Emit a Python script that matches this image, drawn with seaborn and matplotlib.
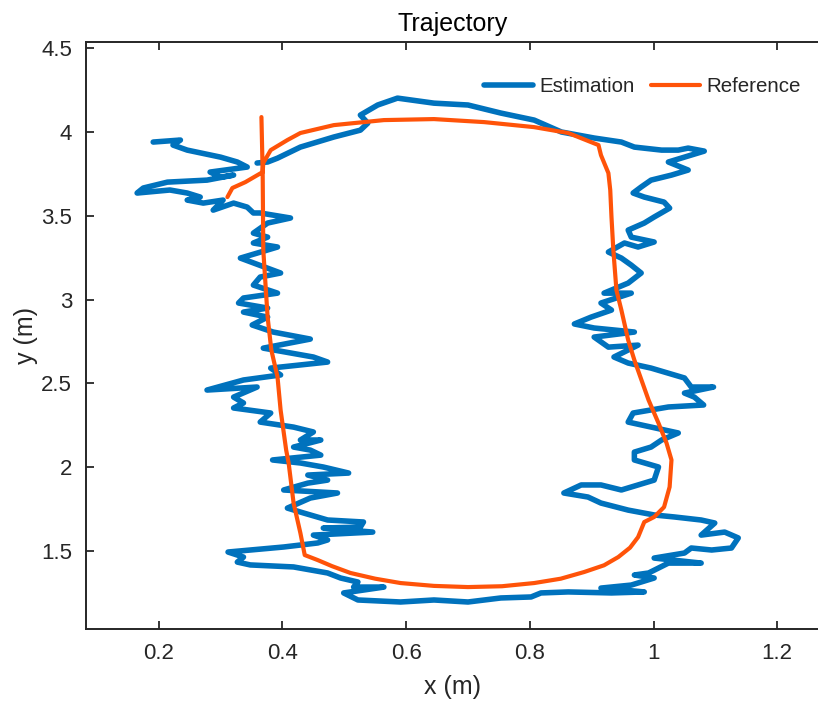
import pandas as pd
import seaborn as sns
import matplotlib.pyplot as plt
from matplotlib.ticker import FuncFormatter, MultipleLocator

# Estimated trajectory
est_cluster_x = [0.191, 0.235, 0.223, 0.246, 0.300, 0.327, 0.343, 0.283, 0.300, 0.321,
                 0.278, 0.214, 0.175, 0.165, 0.218, 0.246, 0.267, 0.246, 0.272, 0.304,
                 0.288, 0.321, 0.343, 0.353, 0.364, 0.413, 0.376, 0.353, 0.376, 0.353,
                 0.392, 0.332]
est_cluster_y = [3.939, 3.951, 3.921, 3.891, 3.849, 3.820, 3.790, 3.760, 3.730, 3.742,
                 3.712, 3.700, 3.665, 3.635, 3.653, 3.635, 3.611, 3.593, 3.575, 3.593,
                 3.533, 3.575, 3.551, 3.516, 3.516, 3.486, 3.456, 3.396, 3.372, 3.337,
                 3.313, 3.247]

est_left_x = [0.397, 0.364, 0.353, 0.392, 0.337, 0.329, 0.376, 0.337, 0.376, 0.351,
              0.385, 0.445, 0.369, 0.450, 0.473, 0.381, 0.397, 0.337, 0.278, 0.359,
              0.321, 0.337, 0.321, 0.381, 0.364, 0.418, 0.450, 0.429, 0.462, 0.418,
              0.445, 0.462, 0.384, 0.429, 0.466, 0.507, 0.441, 0.473, 0.441, 0.402,
              0.489, 0.445, 0.408, 0.434, 0.473, 0.531, 0.526, 0.466, 0.546, 0.450,
              0.473, 0.457, 0.402, 0.312]
est_left_y = [3.158, 3.134, 3.086, 3.038, 3.009, 2.979, 2.949, 2.925, 2.895, 2.848,
              2.806, 2.764, 2.710, 2.657, 2.627, 2.591, 2.550, 2.520, 2.460, 2.478,
              2.418, 2.383, 2.353, 2.323, 2.269, 2.239, 2.210, 2.162, 2.162, 2.120,
              2.102, 2.072, 2.043, 2.025, 2.001, 1.965, 1.953, 1.923, 1.905, 1.864,
              1.846, 1.816, 1.756, 1.727, 1.685, 1.673, 1.643, 1.637, 1.613, 1.595,
              1.566, 1.548, 1.524, 1.494]

est_bottom_x = [0.337, 0.327, 0.348, 0.418, 0.473, 0.494, 0.522, 0.515, 0.564, 0.499,
                0.522, 0.591, 0.645, 0.700, 0.753, 0.802, 0.818, 0.862, 0.932, 0.985,
                0.915, 0.964, 1.001, 0.969, 0.992, 1.024, 1.077, 1.001, 1.050, 1.061,
                1.094, 1.126, 1.137, 1.115, 1.077, 1.099, 1.077, 1.034, 1.001, 0.959,
                0.915, 0.894, 0.855, 0.883, 0.915, 0.948, 0.975, 1.001, 1.008, 0.969]
est_bottom_y = [1.464, 1.434, 1.417, 1.405, 1.369, 1.339, 1.315, 1.285, 1.285, 1.250,
                1.208, 1.196, 1.208, 1.196, 1.220, 1.226, 1.250, 1.256, 1.250, 1.256,
                1.279, 1.297, 1.339, 1.357, 1.369, 1.428, 1.428, 1.458, 1.488, 1.518,
                1.506, 1.518, 1.578, 1.613, 1.595, 1.667, 1.685, 1.703, 1.715, 1.744,
                1.786, 1.822, 1.846, 1.894, 1.894, 1.864, 1.894, 1.923, 2.001, 2.043]

est_right_x = [0.969, 0.996, 1.013, 1.040, 0.996, 0.959, 0.967, 1.024, 1.081, 1.066,
               1.050, 1.097, 1.061, 1.050, 0.996, 0.959, 0.936, 0.975, 0.927, 0.904,
               0.969, 0.904, 0.872, 0.899, 0.932, 0.915, 0.964, 0.920, 0.959, 0.980,
               0.964, 0.948, 0.927, 0.953, 0.975, 1.001, 0.964, 0.959, 0.985, 1.001,
               1.026, 1.017, 0.985, 0.967, 0.980, 0.996, 1.029, 1.056, 1.024, 1.082]
est_right_y = [2.090, 2.120, 2.162, 2.204, 2.239, 2.269, 2.323, 2.359, 2.371, 2.418,
               2.442, 2.478, 2.478, 2.532, 2.591, 2.621, 2.657, 2.728, 2.716, 2.776,
               2.806, 2.830, 2.854, 2.895, 2.937, 2.979, 3.038, 3.038, 3.098, 3.158,
               3.205, 3.247, 3.283, 3.337, 3.313, 3.343, 3.372, 3.414, 3.456, 3.492,
               3.545, 3.581, 3.611, 3.635, 3.671, 3.712, 3.742, 3.772, 3.820, 3.885]

est_top_x = [1.056, 1.040, 1.013, 0.969, 0.948, 0.904, 0.851, 0.807, 0.753, 0.700,
             0.645, 0.586, 0.554, 0.526, 0.538, 0.526, 0.483, 0.429, 0.392, 0.376,
             0.359]
est_top_y = [3.903, 3.891, 3.891, 3.909, 3.939, 3.963, 3.999, 4.070, 4.112, 4.160,
             4.171, 4.201, 4.160, 4.100, 4.052, 4.010, 3.969, 3.909, 3.843, 3.820,
             3.814]

# Reference trajectory
ref_x = [0.366, 0.368, 0.369, 0.376, 0.382, 0.392, 0.397, 0.406, 0.410, 0.418,
         0.429, 0.436, 0.457, 0.480, 0.510, 0.550, 0.591, 0.645, 0.700, 0.755,
         0.807, 0.850, 0.888, 0.920, 0.943, 0.962, 0.975, 0.983, 0.985, 1.001,
         1.017, 1.026, 1.029, 1.021, 1.008, 0.992, 0.969, 0.959, 0.948, 0.940,
         0.935, 0.932, 0.930, 0.927, 0.915, 0.911, 0.862, 0.807, 0.726, 0.645,
         0.564, 0.483, 0.429, 0.408, 0.381, 0.369, 0.368, 0.340, 0.319, 0.311]
ref_y = [4.088, 3.760, 3.295, 2.895, 2.699, 2.538, 2.341, 2.102, 2.025, 1.786,
         1.607, 1.476, 1.446, 1.410, 1.369, 1.335, 1.309, 1.292, 1.285, 1.290,
         1.309, 1.335, 1.375, 1.415, 1.464, 1.520, 1.583, 1.655, 1.673, 1.703,
         1.762, 1.882, 2.043, 2.144, 2.263, 2.400, 2.639, 2.758, 2.937, 3.056,
         3.295, 3.492, 3.653, 3.754, 3.861, 3.921, 3.993, 4.028, 4.058, 4.076,
         4.070, 4.040, 3.993, 3.951, 3.891, 3.814, 3.760, 3.700, 3.665, 3.611]

est = pd.DataFrame({
    "x": est_cluster_x + est_left_x + est_bottom_x + est_right_x + est_top_x,
    "y": est_cluster_y + est_left_y + est_bottom_y + est_right_y + est_top_y,
})
ref = pd.DataFrame({"x": ref_x, "y": ref_y})

sns.set_style("white")
plt.rcParams["font.family"] = ["Liberation Sans", "DejaVu Sans"]
ink = "#262626"

fig = plt.figure(figsize=(8.18, 7.02), dpi=100)
ax = fig.add_axes([0.1051, 0.104, 0.897, 0.836])

sns.lineplot(data=est, x="x", y="y", sort=False, estimator=None, color="#0072BD",
             linewidth=4.0, label="Estimation", ax=ax)
sns.lineplot(data=ref, x="x", y="y", sort=False, estimator=None, color="#FF5309",
             linewidth=3.0, label="Reference", ax=ax)

ax.set_xlim(0.0823, 1.2687)
ax.set_ylim(1.035, 4.535)
ax.xaxis.set_major_locator(MultipleLocator(0.2))
ax.yaxis.set_major_locator(MultipleLocator(0.5))
fmt = FuncFormatter(lambda v, p: f"{v:g}")
ax.xaxis.set_major_formatter(fmt)
ax.yaxis.set_major_formatter(fmt)

ax.tick_params(direction="in", length=6, width=1.3, colors=ink, labelsize=16,
               top=True, bottom=True, left=True, right=False)
ax.tick_params(axis="x", pad=10)
ax.tick_params(axis="y", pad=10)
for side in ["left", "bottom", "top"]:
    ax.spines[side].set_color(ink)
    ax.spines[side].set_linewidth(1.4)
ax.spines["right"].set_visible(False)

ax.set_xlabel("x (m)", fontsize=18, color=ink)
ax.set_ylabel("y (m)", fontsize=18, color=ink)
ax.xaxis.set_label_coords(0.5, -0.078)
ax.yaxis.set_label_coords(-0.066, 0.5)
ax.set_title("Trajectory", fontsize=18, color="black", pad=8)

ax.legend(loc="upper right", bbox_to_anchor=(0.985, 0.955), ncol=2, frameon=False,
          fontsize=14.8, handlelength=2.4, handletextpad=0.3, columnspacing=0.78,
          borderaxespad=0)

fig.savefig("out.png", dpi=100)
